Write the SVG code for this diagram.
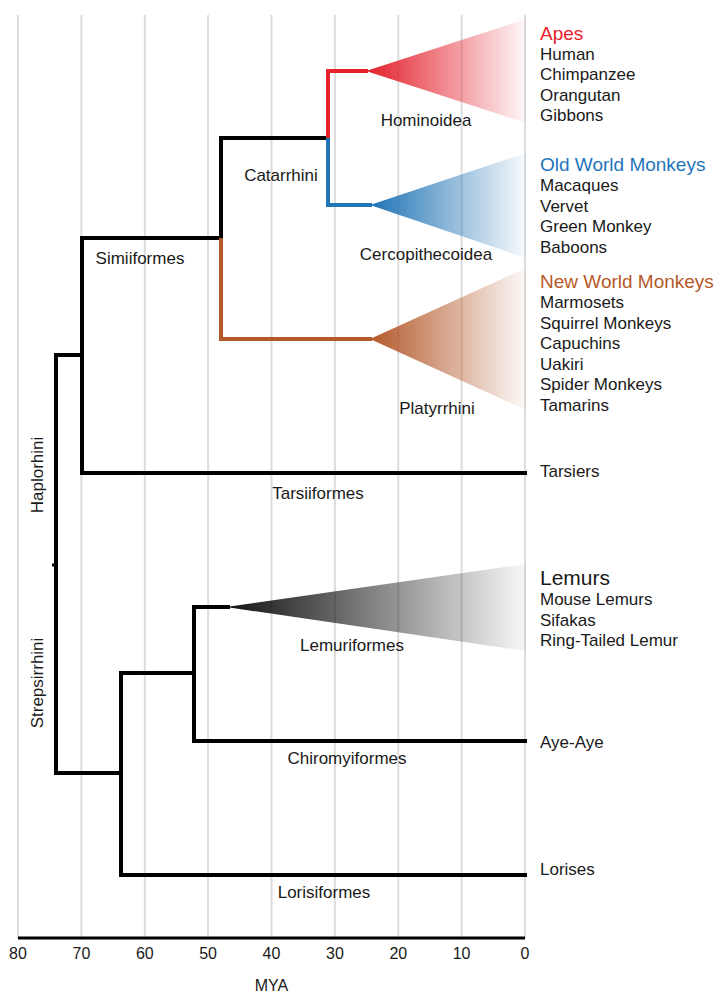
<svg xmlns="http://www.w3.org/2000/svg" width="717" height="994" viewBox="0 0 717 994">
<style>
text{font-family:"Liberation Sans",Arial,sans-serif;fill:#1a1a1a}
.sp{font-size:17px}
.cl{font-size:17px;text-anchor:middle}
.hd{font-size:19px}
.tk{font-size:16px;text-anchor:middle}
.grid{stroke:#dcdcdc;stroke-width:2}
.br{fill:none;stroke:#000;stroke-width:4;stroke-linecap:square;stroke-linejoin:miter}
</style>
<defs>
<linearGradient id="gRed" x1="0" y1="0" x2="1" y2="0"><stop offset="0" stop-color="#e31f2a"/><stop offset="1" stop-color="#e31f2a" stop-opacity="0.03"/></linearGradient>
<linearGradient id="gBlue" x1="0" y1="0" x2="1" y2="0"><stop offset="0" stop-color="#1f73b5"/><stop offset="1" stop-color="#1f73b5" stop-opacity="0.03"/></linearGradient>
<linearGradient id="gBrown" x1="0" y1="0" x2="1" y2="0"><stop offset="0" stop-color="#b3582a"/><stop offset="1" stop-color="#b3582a" stop-opacity="0.03"/></linearGradient>
<linearGradient id="gGray" x1="0" y1="0" x2="1" y2="0"><stop offset="0" stop-color="#111"/><stop offset="1" stop-color="#111" stop-opacity="0.03"/></linearGradient>
</defs>
<rect width="717" height="994" fill="#fff"/>
<g id="grid">
<line class="grid" x1="18" y1="15" x2="18" y2="938"/>
<line class="grid" x1="81.4" y1="15" x2="81.4" y2="938"/>
<line class="grid" x1="144.8" y1="15" x2="144.8" y2="938"/>
<line class="grid" x1="208.1" y1="15" x2="208.1" y2="938"/>
<line class="grid" x1="271.5" y1="15" x2="271.5" y2="938"/>
<line class="grid" x1="334.9" y1="15" x2="334.9" y2="938"/>
<line class="grid" x1="398.3" y1="15" x2="398.3" y2="938"/>
<line class="grid" x1="461.6" y1="15" x2="461.6" y2="938"/>
<line class="grid" x1="525" y1="15" x2="525" y2="938"/>
</g>
<g id="axis">
<line x1="18" y1="938" x2="525" y2="938" stroke="#000" stroke-width="3"/>
<text class="tk" x="18" y="959">80</text>
<text class="tk" x="81.4" y="959">70</text>
<text class="tk" x="144.8" y="959">60</text>
<text class="tk" x="208.1" y="959">50</text>
<text class="tk" x="271.5" y="959">40</text>
<text class="tk" x="334.9" y="959">30</text>
<text class="tk" x="398.3" y="959">20</text>
<text class="tk" x="461.6" y="959">10</text>
<text class="tk" x="525" y="959">0</text>
<text class="tk" x="271.5" y="991">MYA</text>
</g>
<g id="connectors">
<path class="br" d="M56 355 V773"/>
<line x1="52" y1="565" x2="56" y2="565" stroke="#000" stroke-width="3"/>
<path class="br" d="M56 355 H82 M82 238 V473 H525"/>
<path class="br" d="M82 238 H221 V138 H328"/>
<path d="M221 238 V339 H372" fill="none" stroke="#b5592a" stroke-width="4"/>
<path d="M328 138 V71 H368" fill="none" stroke="#e8202a" stroke-width="4"/>
<path d="M328 138 V205 H372" fill="none" stroke="#2176b8" stroke-width="4"/>
<path class="br" d="M56 773 H121 M121 673 V875 H525"/>
<path class="br" d="M121 673 H194 V607 H228 M194 673 V741 H525"/>
</g>
<g id="apes">
<polygon points="366,71 526,19 526,123" fill="url(#gRed)"/>
<text class="hd" x="540" y="40" fill="#e8202a" style="fill:#e8202a">Apes</text>
<text class="sp" x="540" y="59.5">Human</text>
<text class="sp" x="540" y="80">Chimpanzee</text>
<text class="sp" x="540" y="100.5">Orangutan</text>
<text class="sp" x="540" y="121">Gibbons</text>
<text class="cl" x="426" y="126">Hominoidea</text>
</g>
<g id="owm">
<polygon points="370,205 526,153 526,258" fill="url(#gBlue)"/>
<text class="hd" x="540" y="170.5" style="fill:#1f75bb">Old World Monkeys</text>
<text class="sp" x="540" y="191">Macaques</text>
<text class="sp" x="540" y="211.5">Vervet</text>
<text class="sp" x="540" y="232">Green Monkey</text>
<text class="sp" x="540" y="252.5">Baboons</text>
<text class="cl" x="426" y="260">Cercopithecoidea</text>
</g>
<g id="nwm">
<polygon points="370,339 526,268 526,410" fill="url(#gBrown)"/>
<text class="hd" x="540" y="287.5" style="fill:#b5592a">New World Monkeys</text>
<text class="sp" x="540" y="308">Marmosets</text>
<text class="sp" x="540" y="328.5">Squirrel Monkeys</text>
<text class="sp" x="540" y="349">Capuchins</text>
<text class="sp" x="540" y="369.5">Uakiri</text>
<text class="sp" x="540" y="390">Spider Monkeys</text>
<text class="sp" x="540" y="410.5">Tamarins</text>
<text class="cl" x="437" y="414">Platyrrhini</text>
</g>
<g id="catarrhini"><text class="cl" x="281" y="181">Catarrhini</text></g>
<g id="simiiformes"><text class="cl" x="140" y="264">Simiiformes</text></g>
<g id="tarsiers">
<text class="sp" x="540" y="477">Tarsiers</text>
<text class="cl" x="318" y="499">Tarsiiformes</text>
</g>
<g id="haplorhini"><text class="cl" transform="translate(43 475) rotate(-90)">Haplorhini</text></g>
<g id="strepsirrhini"><text class="cl" transform="translate(43 683) rotate(-90)">Strepsirrhini</text></g>
<g id="lemurs">
<polygon points="226,607 526,564 526,651" fill="url(#gGray)"/>
<text x="540" y="585" style="font-size:21px">Lemurs</text>
<text class="sp" x="540" y="605">Mouse Lemurs</text>
<text class="sp" x="540" y="625.5">Sifakas</text>
<text class="sp" x="540" y="646">Ring-Tailed Lemur</text>
<text class="cl" x="352" y="651">Lemuriformes</text>
</g>
<g id="ayeaye">
<text class="sp" x="540" y="748">Aye-Aye</text>
<text class="cl" x="347" y="764">Chiromyiformes</text>
</g>
<g id="lorises">
<text class="sp" x="540" y="875">Lorises</text>
<text class="cl" x="324" y="898">Lorisiformes</text>
</g>
</svg>
